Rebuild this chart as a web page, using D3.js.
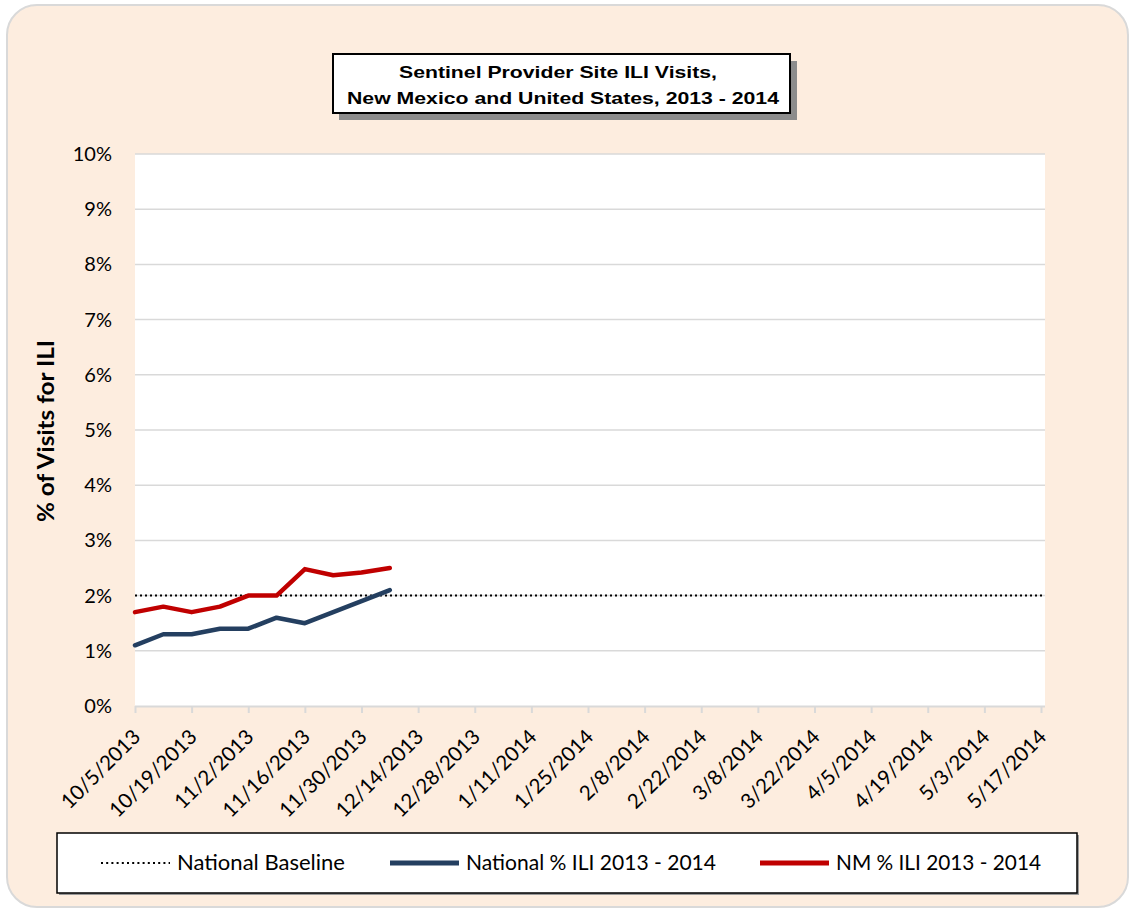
<!DOCTYPE html>
<html><head><meta charset="utf-8">
<script src="https://cdn.jsdelivr.net/npm/d3@7"></script>
<style>body{margin:0;background:#fff;}svg{display:block;}</style>
</head><body>
<script>
const weeks = ["2013-10-05","2013-10-12","2013-10-19","2013-10-26","2013-11-02","2013-11-09","2013-11-16","2013-11-23","2013-11-30","2013-12-07"];
const nationalILI = [1.1,1.3,1.3,1.4,1.4,1.6,1.5,1.7,1.9,2.1];
const nmILI = [1.7,1.8,1.7,1.8,2.0,2.0,2.48,2.37,2.42,2.5];
const nationalBaseline = 2.0;
const tickDates = ["2013-10-05","2013-10-19","2013-11-02","2013-11-16","2013-11-30","2013-12-14","2013-12-28","2014-01-11","2014-01-25","2014-02-08","2014-02-22","2014-03-08","2014-03-22","2014-04-05","2014-04-19","2014-05-03","2014-05-17"];
const yTicks = [0,1,2,3,4,5,6,7,8,9,10];
const titleLines = ["Sentinel Provider Site ILI Visits,","New Mexico and United States, 2013 - 2014"];
const legendItems = [
  {label:"National Baseline", color:"#000", dash:"2,3.2", width:2},
  {label:"National % ILI 2013 - 2014", color:"#243f60", dash:null, width:5},
  {label:"NM % ILI 2013 - 2014", color:"#c00000", dash:null, width:5}
];

const W=1134,H=911;
const parse=d3.utcParse("%Y-%m-%d");
const fmt=d3.utcFormat("%-m/%-d/%Y");
const svg=d3.select("body").append("svg").attr("width",W).attr("height",H);
const FONT="Lato, 'Open Sans', sans-serif";

// background card
svg.append("rect").attr("x",7).attr("y",5).attr("width",1121).attr("height",902).attr("rx",30)
  .attr("fill","#fdeddf").attr("stroke","#d9d9d9").attr("stroke-width",2);

const pl=135, pr=1041, pt=154, pb=706, pRight=1045;
const x=d3.scaleUtc().domain([parse(tickDates[0]),parse(tickDates[tickDates.length-1])]).range([pl,pr]);
const y=d3.scaleLinear().domain([0,10]).range([pb,pt]);

svg.append("rect").attr("x",pl).attr("y",pt).attr("width",pRight-pl).attr("height",pb-pt).attr("fill","#fff");

// gridlines
svg.append("g").selectAll("line").data(yTicks.filter(d=>d>0)).join("line")
  .attr("x1",pl).attr("x2",pRight).attr("y1",d=>y(d)).attr("y2",d=>y(d))
  .attr("stroke","#d9d9d9").attr("stroke-width",1.5);

// y axis labels
const yAxis=d3.axisLeft(y).tickValues(yTicks).tickFormat(d=>d+"%").tickSize(0).tickPadding(23);
const gy=svg.append("g").attr("transform",`translate(${pl},0)`).call(yAxis);
gy.select(".domain").remove();
gy.selectAll("text").attr("font-family",FONT).attr("font-size",20).attr("fill","#000");

// x axis
const xAxis=d3.axisBottom(x).tickValues(tickDates.map(parse)).tickFormat(fmt).tickSize(7).tickSizeOuter(0);
const gx=svg.append("g").attr("transform",`translate(0,${pb})`).call(xAxis);
gx.select(".domain").attr("d",`M${pl},0.5H${pRight}`).attr("stroke","#d9d9d9").attr("stroke-width",2);
gx.selectAll(".tick line").attr("stroke","#d9d9d9").attr("stroke-width",2);
gx.selectAll("text").attr("font-family",FONT).attr("font-size",20.5).attr("fill","#000")
  .attr("text-anchor","end").attr("x",0).attr("y",0).attr("dy","0.35em")
  .attr("transform","translate(1,27) rotate(-45)");

// y axis title
svg.append("text").attr("transform",`translate(54,431) rotate(-90)`).attr("text-anchor","middle")
  .attr("font-family",FONT).attr("font-weight","bold").attr("font-size",22)
  .attr("textLength",182).attr("lengthAdjust","spacingAndGlyphs").text("% of Visits for ILI");

// baseline
svg.append("line").attr("x1",pl).attr("x2",pRight).attr("y1",y(nationalBaseline)).attr("y2",y(nationalBaseline))
  .attr("stroke","#000").attr("stroke-width",2).attr("stroke-dasharray","2,3");

const line=d3.line().x((d,i)=>x(parse(weeks[i]))).y(d=>y(d));
svg.append("path").datum(nationalILI).attr("d",line).attr("fill","none").attr("stroke","#243f60").attr("stroke-width",4.5).attr("stroke-linejoin","round").attr("stroke-linecap","round");
svg.append("path").datum(nmILI).attr("d",line).attr("fill","none").attr("stroke","#c00000").attr("stroke-width",4.5).attr("stroke-linejoin","round").attr("stroke-linecap","round");

// title box
svg.append("rect").attr("x",339).attr("y",61).attr("width",458).attr("height",59).attr("fill","#8c8c8c");
svg.append("rect").attr("x",333).attr("y",54).attr("width",457).attr("height",59).attr("fill","#fff").attr("stroke","#000").attr("stroke-width",2);
const titleW=[318,432], titleC=[558,563];
svg.append("g").selectAll("text").data(titleLines).join("text")
  .attr("x",(d,i)=>titleC[i]).attr("y",(d,i)=>78+i*26).attr("text-anchor","middle")
  .attr("font-family","'Liberation Sans', Arial, sans-serif").attr("font-weight","bold").attr("font-size",17)
  .attr("textLength",(d,i)=>titleW[i]).attr("lengthAdjust","spacingAndGlyphs").text(d=>d);

// legend
svg.append("rect").attr("x",59).attr("y",835).attr("width",1020).attr("height",60).attr("fill","#999");
svg.append("rect").attr("x",57).attr("y",833).attr("width",1020).attr("height",60).attr("fill","#fff").attr("stroke","#000").attr("stroke-width",1.5);
const lx=[101,390,760], lw=[168,250,205];
const lg=svg.append("g").selectAll("g").data(legendItems).join("g").attr("transform",(d,i)=>`translate(${lx[i]},863)`);
lg.append("line").attr("x1",0).attr("x2",69).attr("stroke",d=>d.color).attr("stroke-width",d=>d.width).attr("stroke-dasharray",d=>d.dash);
lg.append("text").attr("x",76).attr("y",7).attr("font-family",FONT).attr("font-size",21)
  .attr("textLength",(d,i)=>lw[i]).attr("lengthAdjust","spacingAndGlyphs").text(d=>d.label);
</script>
</body></html>
